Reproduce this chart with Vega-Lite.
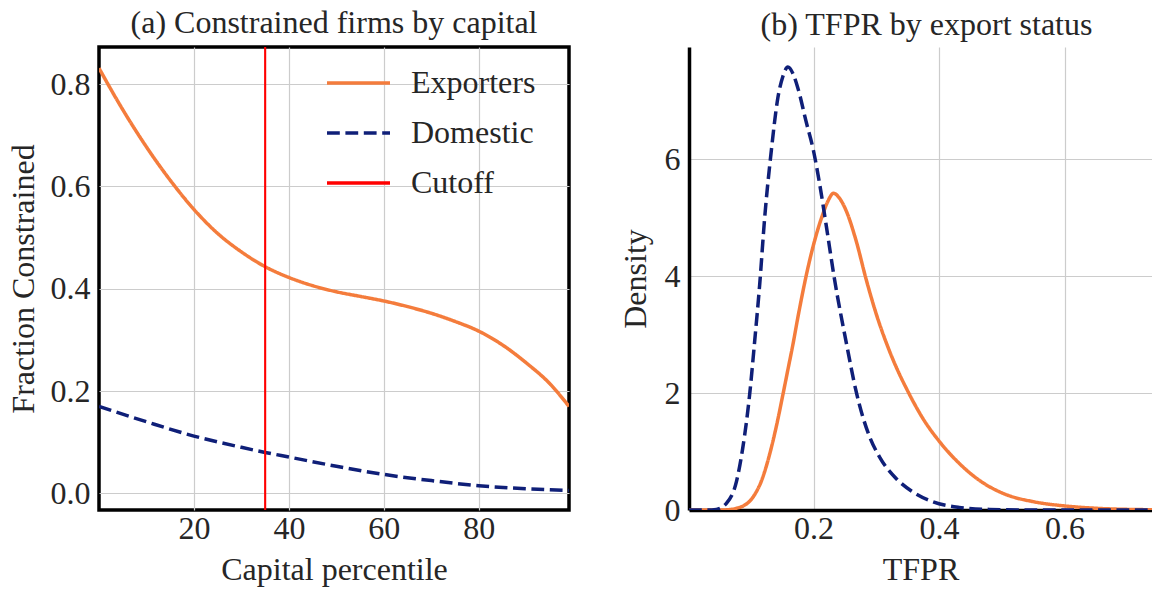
{
  "$schema": "https://vega.github.io/schema/vega-lite/v6.json",
  "padding": {"left": 5, "top": 5, "right": 0, "bottom": 0},
  "spacing": 120,
  "bounds": "flush",
  "datasets": {
    "a": [
      {"series": "Exporters", "x": 0, "y": 0.831},
      {"series": "Exporters", "x": 5, "y": 0.75},
      {"series": "Exporters", "x": 10, "y": 0.677},
      {"series": "Exporters", "x": 15, "y": 0.612},
      {"series": "Exporters", "x": 20, "y": 0.555},
      {"series": "Exporters", "x": 25, "y": 0.508},
      {"series": "Exporters", "x": 30, "y": 0.472},
      {"series": "Exporters", "x": 35, "y": 0.443},
      {"series": "Exporters", "x": 40, "y": 0.422},
      {"series": "Exporters", "x": 45, "y": 0.406},
      {"series": "Exporters", "x": 50, "y": 0.394},
      {"series": "Exporters", "x": 55, "y": 0.385},
      {"series": "Exporters", "x": 60, "y": 0.376},
      {"series": "Exporters", "x": 65, "y": 0.365},
      {"series": "Exporters", "x": 70, "y": 0.352},
      {"series": "Exporters", "x": 75, "y": 0.336},
      {"series": "Exporters", "x": 80, "y": 0.317},
      {"series": "Exporters", "x": 85, "y": 0.29},
      {"series": "Exporters", "x": 90, "y": 0.255},
      {"series": "Exporters", "x": 95, "y": 0.214},
      {"series": "Exporters", "x": 99, "y": 0.17},
      {"series": "Domestic", "x": 0, "y": 0.17},
      {"series": "Domestic", "x": 10, "y": 0.14},
      {"series": "Domestic", "x": 20, "y": 0.112},
      {"series": "Domestic", "x": 30, "y": 0.09},
      {"series": "Domestic", "x": 35, "y": 0.08},
      {"series": "Domestic", "x": 40, "y": 0.071},
      {"series": "Domestic", "x": 50, "y": 0.053},
      {"series": "Domestic", "x": 60, "y": 0.037},
      {"series": "Domestic", "x": 70, "y": 0.025},
      {"series": "Domestic", "x": 80, "y": 0.015},
      {"series": "Domestic", "x": 90, "y": 0.009},
      {"series": "Domestic", "x": 99, "y": 0.0055}
    ],
    "cut": [
      {"series": "Cutoff", "x": 35}
    ],
    "b": [
      {"series": "Exporters", "x": 0.0014, "y": 0},
      {"series": "Exporters", "x": 0.05, "y": 0},
      {"series": "Exporters", "x": 0.065, "y": 0.005},
      {"series": "Exporters", "x": 0.077, "y": 0.03},
      {"series": "Exporters", "x": 0.088, "y": 0.07},
      {"series": "Exporters", "x": 0.098, "y": 0.15},
      {"series": "Exporters", "x": 0.107, "y": 0.28},
      {"series": "Exporters", "x": 0.1166, "y": 0.49},
      {"series": "Exporters", "x": 0.126, "y": 0.8},
      {"series": "Exporters", "x": 0.135, "y": 1.17},
      {"series": "Exporters", "x": 0.143, "y": 1.55},
      {"series": "Exporters", "x": 0.151, "y": 1.97},
      {"series": "Exporters", "x": 0.159, "y": 2.4},
      {"series": "Exporters", "x": 0.167, "y": 2.83},
      {"series": "Exporters", "x": 0.175, "y": 3.3},
      {"series": "Exporters", "x": 0.18, "y": 3.58},
      {"series": "Exporters", "x": 0.188, "y": 4.0},
      {"series": "Exporters", "x": 0.2014, "y": 4.6},
      {"series": "Exporters", "x": 0.2146, "y": 5.06},
      {"series": "Exporters", "x": 0.223, "y": 5.29},
      {"series": "Exporters", "x": 0.2317, "y": 5.42},
      {"series": "Exporters", "x": 0.241, "y": 5.34},
      {"series": "Exporters", "x": 0.252, "y": 5.12},
      {"series": "Exporters", "x": 0.268, "y": 4.6},
      {"series": "Exporters", "x": 0.2837, "y": 3.95},
      {"series": "Exporters", "x": 0.2997, "y": 3.36},
      {"series": "Exporters", "x": 0.321, "y": 2.72},
      {"series": "Exporters", "x": 0.3527, "y": 1.98},
      {"series": "Exporters", "x": 0.374, "y": 1.57},
      {"series": "Exporters", "x": 0.4, "y": 1.18},
      {"series": "Exporters", "x": 0.432, "y": 0.8},
      {"series": "Exporters", "x": 0.464, "y": 0.51},
      {"series": "Exporters", "x": 0.5066, "y": 0.265},
      {"series": "Exporters", "x": 0.549, "y": 0.145},
      {"series": "Exporters", "x": 0.6, "y": 0.07},
      {"series": "Exporters", "x": 0.65, "y": 0.03},
      {"series": "Exporters", "x": 0.703, "y": 0.01},
      {"series": "Exporters", "x": 0.7394, "y": 0.005},
      {"series": "Domestic", "x": 0.0014, "y": 0},
      {"series": "Domestic", "x": 0.03, "y": 0},
      {"series": "Domestic", "x": 0.045, "y": 0.01},
      {"series": "Domestic", "x": 0.061, "y": 0.113},
      {"series": "Domestic", "x": 0.077, "y": 0.485},
      {"series": "Domestic", "x": 0.087, "y": 1.055},
      {"series": "Domestic", "x": 0.098, "y": 1.97},
      {"series": "Domestic", "x": 0.106, "y": 2.88},
      {"series": "Domestic", "x": 0.114, "y": 3.85},
      {"series": "Domestic", "x": 0.122, "y": 5.0},
      {"series": "Domestic", "x": 0.1325, "y": 6.14},
      {"series": "Domestic", "x": 0.143, "y": 7.05},
      {"series": "Domestic", "x": 0.151, "y": 7.42},
      {"series": "Domestic", "x": 0.159, "y": 7.58},
      {"series": "Domestic", "x": 0.167, "y": 7.47},
      {"series": "Domestic", "x": 0.175, "y": 7.22},
      {"series": "Domestic", "x": 0.188, "y": 6.65},
      {"series": "Domestic", "x": 0.2, "y": 6.14},
      {"series": "Domestic", "x": 0.209, "y": 5.62},
      {"series": "Domestic", "x": 0.22, "y": 4.88},
      {"series": "Domestic", "x": 0.233, "y": 3.97},
      {"series": "Domestic", "x": 0.252, "y": 2.87},
      {"series": "Domestic", "x": 0.268, "y": 2.02},
      {"series": "Domestic", "x": 0.289, "y": 1.26},
      {"series": "Domestic", "x": 0.305, "y": 0.91},
      {"series": "Domestic", "x": 0.3315, "y": 0.54},
      {"series": "Domestic", "x": 0.358, "y": 0.31},
      {"series": "Domestic", "x": 0.39, "y": 0.14},
      {"series": "Domestic", "x": 0.432, "y": 0.045},
      {"series": "Domestic", "x": 0.48, "y": 0.01},
      {"series": "Domestic", "x": 0.55, "y": 0},
      {"series": "Domestic", "x": 0.7394, "y": 0}
    ]
  },
  "hconcat": [
    {
      "width": 470,
      "height": 463,
      "title": {"text": "(a) Constrained firms by capital"},
      "layer": [
        {
          "data": {"name": "a"},
          "mark": {"type": "line", "strokeWidth": 3.5, "interpolate": "monotone", "clip": true},
          "encoding": {
            "x": {"field": "x", "type": "quantitative", "scale": {"domain": [0, 99], "nice": false, "zero": false}, "axis": {"values": [20, 40, 60, 80], "title": "Capital percentile"}},
            "y": {"field": "y", "type": "quantitative", "scale": {"domain": [-0.0325, 0.8724], "nice": false, "zero": false}, "axis": {"values": [0, 0.2, 0.4, 0.6, 0.8], "format": ".1f", "title": "Fraction Constrained", "titlePadding": 10}},
            "color": {"field": "series", "type": "nominal", "scale": {"domain": ["Exporters", "Domestic", "Cutoff"], "range": ["#f47c3c", "#0f1f78", "#ff0000"]}, "legend": {"title": null, "legendX": 226, "legendY": 2.5}},
            "strokeDash": {"field": "series", "type": "nominal", "scale": {"domain": ["Exporters", "Domestic", "Cutoff"], "range": [[1, 0], [12.8, 5.6], [1, 0]]}, "legend": {"title": null, "legendX": 226, "legendY": 2.5}}
          }
        },
        {
          "data": {"name": "cut"},
          "mark": {"type": "rule", "strokeWidth": 2.1},
          "encoding": {
            "x": {"field": "x", "type": "quantitative"},
            "color": {"field": "series", "type": "nominal"},
            "strokeDash": {"field": "series", "type": "nominal"}
          }
        }
      ]
    },
    {
      "width": 463,
      "height": 463,
      "view": {"stroke": null},
      "title": {"text": "(b) TFPR by export status", "dx": 6},
      "layer": [
        {
          "data": {"name": "b"},
          "mark": {"type": "line", "strokeWidth": 3.5, "interpolate": "monotone", "clip": true},
          "encoding": {
            "x": {"field": "x", "type": "quantitative", "scale": {"domain": [0.0014, 0.7394], "nice": false, "zero": false}, "axis": {"values": [0.2, 0.4, 0.6], "format": ".1f", "title": "TFPR", "domain": true, "domainColor": "black", "domainWidth": 3.5}},
            "y": {"field": "y", "type": "quantitative", "scale": {"domain": [0, 7.924], "nice": false}, "axis": {"values": [0, 2, 4, 6], "format": "d", "title": "Density", "titlePadding": 12, "domain": true, "domainColor": "black", "domainWidth": 3.5}},
            "color": {"field": "series", "type": "nominal", "scale": {"domain": ["Exporters", "Domestic"], "range": ["#f47c3c", "#0f1f78"]}, "legend": {"title": null, "legendX": 230, "legendY": 2.5}},
            "strokeDash": {"field": "series", "type": "nominal", "scale": {"domain": ["Exporters", "Domestic"], "range": [[1, 0], [12.8, 5.6]]}, "legend": {"title": null, "legendX": 230, "legendY": 2.5}}
          }
        },
        {
          "mark": {"type": "rule", "color": "black", "strokeWidth": 3.5},
          "encoding": {"y": {"datum": 7.924}}
        }
      ]
    }
  ],
  "config": {
    "font": "Liberation Serif",
    "view": {"stroke": "black", "strokeWidth": 3.5},
    "axis": {
      "grid": true,
      "gridColor": "#cccccc",
      "gridWidth": 1.2,
      "ticks": false,
      "tickSize": 0,
      "domain": false,
      "labelFlush": false,
      "labelFont": "Liberation Serif",
      "labelFontSize": 32,
      "labelColor": "#262626",
      "labelPadding": 9,
      "titleFont": "Liberation Serif",
      "titleFontSize": 32,
      "titleFontWeight": "normal",
      "titleColor": "#262626"
    },
    "axisX": {"labelPadding": 3, "titlePadding": 10},
    "legend": {
      "orient": "none",
      "symbolType": "stroke",
      "symbolSize": 3969,
      "symbolStrokeWidth": 3.5,
      "labelFont": "Liberation Serif",
      "labelFontSize": 32,
      "labelColor": "#262626",
      "labelOffset": 19,
      "rowPadding": -22,
      "padding": 0
    },
    "title": {"font": "Liberation Serif", "fontSize": 32, "fontWeight": "normal", "color": "#262626", "offset": 5.5, "baseline": "alphabetic"}
  }
}
